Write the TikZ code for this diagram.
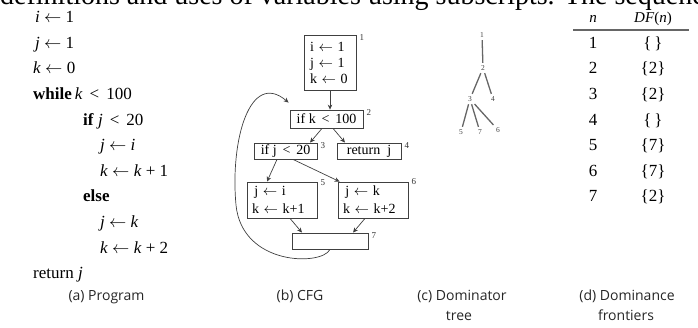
\documentclass[tikz,border=0pt]{standalone}
\usepackage{fontspec}
\setmainfont{Liberation Serif}
\newfontfamily\capfont{Open Sans}
\usetikzlibrary{calc,arrows.meta}
\newcommand{\lar}{\ensuremath{\leftarrow}}
\begin{document}
\begin{tikzpicture}[x=1pt,y=-1pt,
  prog/.style={anchor=base west, inner sep=0, font=\fontsize{17}{17}\selectfont},
  tab/.style={anchor=base, inner sep=0, font=\fontsize{17}{17}\selectfont},
  capt/.style={anchor=base, inner sep=0, font=\capfont\fontsize{14}{14}\selectfont, text=black!85},
  cfgbox/.style={draw=black!75, line width=0.8pt, inner sep=0, font=\fontsize{14}{16}\selectfont},
  lab/.style={anchor=west, inner sep=0, font=\fontsize{9}{9}\selectfont, text=black!80},
  flow/.style={draw=black!75, line width=0.7pt, -{Stealth[length=5pt,width=4.5pt]}},
  dom/.style={font=\fontsize{7.5}{7.5}\selectfont, text=black!75, inner sep=2.5pt},
  domline/.style={draw=black!60, line width=1.3pt}
]
\useasboundingbox (0,0) rectangle (698,327);
\clip (0,0) rectangle (698,327);

% cut-off body text line
\node[anchor=base west, inner sep=0, font=\fontsize{28}{28}\selectfont] (body) at (0,4) {definitions and uses of variables using subscripts. The sequence};

% (a) Program
\node[prog] (p0) at (35,22.7) {\textit{i}\ \lar\ 1};
\node[prog] (p1) at (35,48.3) {\textit{j}\ \lar\ 1};
\node[prog] (p2) at (33,73.9) {\textit{k}\ \lar\ 0};
\node[prog] (p3) at (33,99.5) {\textbf{while}\,\textit{k}\ \,<\ \,100};
\node[prog] (p4) at (83,125.1) {\textbf{if}\ \textit{j}\ \,<\ \,20};
\node[prog] (p5) at (100,150.7) {\textit{j}\ \lar\ \textit{i}};
\node[prog] (p6) at (100,176.3) {\textit{k}\ \lar\ \textit{k}\ +\ 1};
\node[prog] (p7) at (83,201.9) {\textbf{else}};
\node[prog] (p8) at (100,227.5) {\textit{j}\ \lar\ \textit{k}};
\node[prog] (p9) at (100,253.1) {\textit{k}\ \lar\ \textit{k}\ +\ 2};
\node[prog] (p10) at (33,278.7) {return\ \textit{j}};
\node[capt] (ca) at (106.5,300) {(a) Program};

% (b) CFG
\node[cfgbox, minimum width=52, minimum height=55, text width=40, align=left] (b1) at (330,62.5) {i \lar\ 1\\ j \lar\ 1\\ k \lar\ 0};
\node[cfgbox, minimum width=73, minimum height=18] (b2) at (326.5,119) {if k \,<\, 100};
\node[cfgbox, minimum width=63, minimum height=16] (b3) at (285.5,151) {if j \,<\, 20};
\node[cfgbox, minimum width=64, minimum height=16] (b4) at (369,151) {return\ \ j};
\node[cfgbox, minimum width=70, minimum height=36, text width=60, align=left, font=\fontsize{14}{18}\selectfont] (b5) at (282,200) {\,j \lar\ i\\ k \lar\ k+1};
\node[cfgbox, minimum width=70, minimum height=36, text width=60, align=left, font=\fontsize{14}{18}\selectfont] (b6) at (373,200) {\,j \lar\ k\\ k \lar\ k+2};
\node[cfgbox, minimum width=76, minimum height=16] (b7) at (330,241) {};

\node[lab] (l1) at ($(b1.north east)+(3,3)$) {1};
\node[lab] (l2) at ($(b2.north east)+(3,3)$) {2};
\node[lab] (l3) at ($(b3.north east)+(3,3)$) {3};
\node[lab] (l4) at ($(b4.north east)+(3,3)$) {4};
\node[lab] (l5) at ($(b5.north east)+(3,1)$) {5};
\node[lab] (l6) at ($(b6.north east)+(3,0)$) {6};
\node[lab] (l7) at ($(b7.north east)+(3,3)$) {7};

\draw[flow] (b1.south) -- (b1.south |- b2.north);
\draw[flow] ($(b2.south)+(-4.5,0)$) -- ($(b3.north)+(24.5,0)$);
\draw[flow] ($(b2.south)+(6.5,0)$) -- ($(b4.north)+(-24,0)$);
\draw[flow] ($(b3.south)+(-8.5,0)$) -- ($(b5.north)+(-15,0)$);
\draw[flow] ($(b3.south)+(7.5,0)$) -- ($(b6.north west)+(2,0)$);
\draw[flow] ($(b5.south)+(8,0)$) -- ($(b7.north)+(-28,0)$);
\draw[flow] ($(b6.south)+(-8,0)$) -- ($(b7.north)+(23,0)$);
\draw[flow] (b7.south) .. controls (322,266) and (242,266) .. (236,205)
  .. controls (230,140) and (250,70) .. ($(b2.north west)+(-1,-7)$);
\node[capt] (cb) at (300,300) {(b) CFG};

% (c) Dominator tree
\node[dom] (d1) at (482,35) {1};
\node[dom] (d2) at (483,68) {2};
\node[dom] (d3) at (470,99) {3};
\node[dom] (d4) at (493,99) {4};
\node[dom] (d5) at (461,132) {5};
\node[dom] (d7) at (480,132) {7};
\node[dom] (d6) at (498,130) {6};
\draw[domline] (d1) -- (d2);
\draw[domline] (d2) -- (d3);
\draw[domline] (d2) -- (d4);
\draw[domline] (d3) -- (d5);
\draw[domline] (d3) -- (d7);
\draw[domline] (d3) -- (d6);
\node[capt] (cc1) at (462,300) {(c) Dominator};
\node[capt] (cc2) at (459,320) {tree};

% (d) Dominance frontiers
\node[tab, font=\fontsize{15}{15}\selectfont] (hn) at (593,22) {\textit{n}};
\node[tab, font=\fontsize{15}{15}\selectfont] (hdf) at (653,22) {\textit{DF}(\textit{n})};
\coordinate (r1) at (573,30);
\coordinate (r2) at (689,30);
\draw[black!60, line width=1.2pt] (r1) -- (r2);
\node[tab] (n1) at (593,48.3) {1};  \node[tab] (f1) at (653,48.3) {\{\,\}};
\node[tab] (n2) at (593,73.9) {2};  \node[tab] (f2) at (653,73.9) {\{2\}};
\node[tab] (n3) at (593,99.5) {3};  \node[tab] (f3) at (653,99.5) {\{2\}};
\node[tab] (n4) at (593,125.1) {4}; \node[tab] (f4) at (653,125.1) {\{\,\}};
\node[tab] (n5) at (593,150.7) {5}; \node[tab] (f5) at (653,150.7) {\{7\}};
\node[tab] (n6) at (593,176.3) {6}; \node[tab] (f6) at (653,176.3) {\{7\}};
\node[tab] (n7) at (593,201.9) {7}; \node[tab] (f7) at (653,201.9) {\{2\}};
\node[capt] (cd1) at (627,300) {(d) Dominance};
\node[capt] (cd2) at (626,320) {frontiers};
\end{tikzpicture}
\end{document}
